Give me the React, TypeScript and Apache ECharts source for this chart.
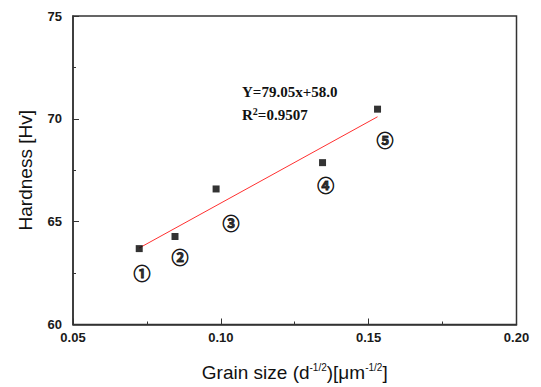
import React, { useEffect, useRef } from "react";
import * as echarts from "echarts";

const grainSize = [0.0724, 0.0845, 0.0984, 0.1344, 0.153];
const hardness = [63.69, 64.28, 66.59, 67.87, 70.47];
const fitX = [0.0724, 0.153];
const fitY = [63.72, 70.1];
const sampleLabels = ["①", "②", "③", "④", "⑤"];
const labelX = [0.0733, 0.0862, 0.1034, 0.1355, 0.1555];
const labelY = [62.53, 63.3, 64.97, 66.82, 68.98];
const equationText = "Y=79.05x+58.0";
const r2Value = "0.9507";

export default function App() {
  const ref = useRef<HTMLDivElement>(null);
  useEffect(() => {
    const chart = echarts.init(ref.current!, null, { renderer: "svg" });
    const axisColor = "#333";
    const labelStyle = {
      color: "#1a1a1a",
      fontFamily: "Liberation Sans, Arial, sans-serif",
      fontWeight: "bold" as const,
      fontSize: 13,
    };
    chart.setOption({
      animation: false,
      backgroundColor: "#fff",
      grid: {
        left: 73,
        right: 24.5,
        top: 16,
        bottom: 59.5,
        show: true,
        borderColor: axisColor,
        borderWidth: 1.5,
        backgroundColor: "transparent",
      },
      xAxis: {
        type: "value",
        min: 0.05,
        max: 0.2,
        interval: 0.05,
        axisLine: { show: true, lineStyle: { color: axisColor, width: 1.5 } },
        axisTick: { show: true, inside: true, length: 6, lineStyle: { color: axisColor } },
        minorTick: { show: true, splitNumber: 2, length: 3, lineStyle: { color: axisColor } },
        splitLine: { show: false },
        axisLabel: { ...labelStyle, margin: 6, formatter: (v: number) => v.toFixed(2) },
        name: "Grain size (d{sup|-1/2})[μm{sup|-1/2}]",
        nameLocation: "middle",
        nameGap: 38,
        nameTextStyle: {
          color: "#111",
          fontFamily: "Liberation Sans, Arial, sans-serif",
          fontSize: 19,
          rich: {
            sup: {
              fontSize: 10,
              fontFamily: "Liberation Sans, Arial, sans-serif",
              color: "#111",
              padding: [0, 0, 10, 0],
            },
          },
        },
      },
      yAxis: {
        type: "value",
        min: 60,
        max: 75,
        interval: 5,
        axisLine: { show: true, lineStyle: { color: axisColor, width: 1.5 } },
        axisTick: { show: true, inside: true, length: 6, lineStyle: { color: axisColor } },
        minorTick: { show: true, splitNumber: 2, length: 3, lineStyle: { color: axisColor } },
        splitLine: { show: false },
        axisLabel: { ...labelStyle, margin: 11 },
        name: "Hardness [Hv]",
        nameLocation: "middle",
        nameRotate: 90,
        nameGap: 38,
        nameTextStyle: {
          color: "#111",
          fontFamily: "Liberation Sans, Arial, sans-serif",
          fontSize: 19,
        },
      },
      series: [
        {
          type: "line",
          data: fitX.map((x, i) => [x, fitY[i]]),
          showSymbol: false,
          symbol: "none",
          lineStyle: { color: "#ff3030", width: 1 },
          z: 2,
        },
        {
          type: "scatter",
          data: grainSize.map((x, i) => [x, hardness[i]]),
          symbol: "rect",
          symbolSize: 7,
          itemStyle: { color: "#000" },
          z: 3,
        },
        {
          type: "scatter",
          data: labelX.map((x, i) => [x, labelY[i]]),
          symbol: "circle",
          symbolSize: 0,
          label: {
            show: true,
            position: "inside",
            formatter: (p: any) => sampleLabels[p.dataIndex],
            fontFamily: "Noto Sans CJK SC, DejaVu Sans, sans-serif",
            fontSize: 17,
            fontWeight: "bold",
            color: "#000",
            textBorderColor: "#000",
            textBorderWidth: 0.8,
          },
          z: 3,
        },
      ],
      graphic: [
        {
          type: "text",
          left: 242,
          top: 84,
          style: {
            text: equationText,
            fontFamily: "Liberation Serif, Times New Roman, serif",
            fontWeight: "bold",
            fontSize: 15,
            fill: "#111",
          },
        },
        {
          type: "text",
          left: 242,
          top: 106,
          style: {
            text: "R{sup|2}=" + r2Value,
            fontFamily: "Liberation Serif, Times New Roman, serif",
            fontWeight: "bold",
            fontSize: 15,
            fill: "#111",
            rich: {
              sup: {
                fontFamily: "Liberation Serif, Times New Roman, serif",
                fontWeight: "bold",
                fontSize: 10,
                fill: "#111",
                padding: [0, 0, 7, 0],
              },
            },
          },
        },
      ],
    });
    return () => chart.dispose();
  }, []);
  return (
    <div
      ref={ref}
      style={{ position: "fixed", left: 0, top: 0, width: 541, height: 387 }}
    />
  );
}
